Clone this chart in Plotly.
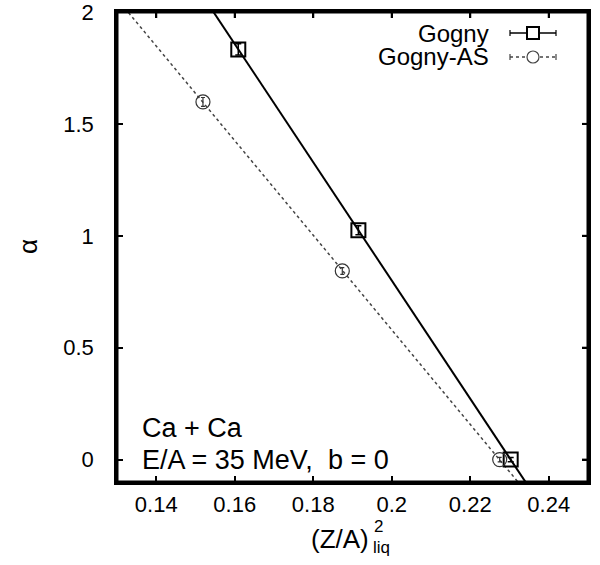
import numpy as np
import plotly.graph_objects as go

# ---- data ----
gogny_x = [0.1609, 0.1915, 0.2303]
gogny_y = [1.833, 1.025, 0.0]
gogny_err = [0.025, 0.02, 0.01]

gas_x = [0.1519, 0.1874, 0.2275]
gas_y = [1.598, 0.843, 0.0]
gas_err = [0.02, 0.015, 0.01]

x_ticks = [0.14, 0.16, 0.18, 0.20, 0.22, 0.24]
x_ticklabels = ["0.14", "0.16", "0.18", "0.2", "0.22", "0.24"]
y_ticks = [0, 0.5, 1, 1.5, 2]
y_ticklabels = ["0", "0.5", "1", "1.5", "2"]

x_range = [0.13, 0.25]
y_range = [-0.1, 2.0]

# linear fits drawn through the points
fx = np.array(x_range)
p1 = np.polyfit(gogny_x, gogny_y, 1)
p2 = np.polyfit(gas_x, gas_y, 1)

FONT = "Liberation Sans, Arial, Helvetica, sans-serif"

fig = go.Figure()
fig.add_trace(go.Scatter(x=fx, y=np.polyval(p1, fx), mode="lines",
                         line=dict(color="black", width=2), showlegend=False))
fig.add_trace(go.Scatter(x=fx, y=np.polyval(p2, fx), mode="lines",
                         line=dict(color="#444444", width=1.5, dash="dot"), showlegend=False))
fig.add_trace(go.Scatter(x=gogny_x, y=gogny_y, mode="markers",
                         marker=dict(symbol="square-open", size=14, color="black",
                                     line=dict(width=2, color="black")),
                         error_y=dict(type="data", array=gogny_err, color="black",
                                      thickness=1.5, width=3),
                         showlegend=False))
fig.add_trace(go.Scatter(x=gas_x, y=gas_y, mode="markers",
                         marker=dict(symbol="circle-open", size=14, color="#333333",
                                     line=dict(width=1.2, color="#333333")),
                         error_y=dict(type="data", array=gas_err, color="#333333",
                                      thickness=1.2, width=2),
                         showlegend=False))

# plot-area geometry in pixels
L, R, T, B = 117, 588, 12, 482
W, H = 600, 565
def px(x):
    return (x - L) / (R - L)
def py(y):
    return (B - y) / (B - T)

shapes = [
    # plot frame
    dict(type="rect", xref="paper", yref="paper", x0=0, x1=1, y0=0, y1=1,
         line=dict(color="black", width=3), layer="above"),
]
# mirrored ticks on top and right edges
for t in x_ticks:
    shapes.append(dict(type="line", xref="x", yref="paper", x0=t, x1=t,
                       ysizemode="pixel", yanchor=1, y0=0, y1=-6,
                       line=dict(color="black", width=2), layer="above"))
for t in y_ticks:
    shapes.append(dict(type="line", yref="y", xref="paper", y0=t, y1=t,
                       xsizemode="pixel", xanchor=1, x0=0, x1=-6,
                       line=dict(color="black", width=2), layer="above"))
# legend samples
for yy, col, dash, sym, lw in [(33, "black", "solid", "rect", 2), (57, "#444444", "dot", "circle", 1.2)]:
    shapes.append(dict(type="line", xref="paper", yref="paper",
                       x0=px(510), x1=px(556), y0=py(yy), y1=py(yy),
                       line=dict(color=col, width=1.5 if dash == "solid" else 1.3, dash=dash)))
    for ex in (510, 556):
        shapes.append(dict(type="line", xref="paper", yref="paper",
                           x0=px(ex), x1=px(ex), y0=py(yy - 3), y1=py(yy + 3),
                           line=dict(color=col, width=1.2)))
    shapes.append(dict(type=sym, xref="paper", yref="paper",
                       x0=px(527), x1=px(539), y0=py(yy + 6), y1=py(yy - 6),
                       fillcolor="white", line=dict(color=col, width=lw)))

annotations = [
    dict(text="Gogny", x=px(491), y=py(33), xref="paper", yref="paper",
         xanchor="right", yanchor="middle", showarrow=False,
         font=dict(family=FONT, size=24, color="black")),
    dict(text="Gogny-AS", x=px(491), y=py(57), xref="paper", yref="paper",
         xanchor="right", yanchor="middle", showarrow=False,
         font=dict(family=FONT, size=24, color="black")),
    dict(text="Ca + Ca", x=px(140), y=py(428), xref="paper", yref="paper",
         xanchor="left", yanchor="middle", showarrow=False,
         font=dict(family=FONT, size=27, color="black")),
    dict(text="E/A = 35 MeV,\u00a0 b = 0", x=px(140), y=py(460), xref="paper", yref="paper",
         xanchor="left", yanchor="middle", showarrow=False,
         font=dict(family=FONT, size=27, color="black")),
    dict(text="(Z/A)", x=px(371), y=py(539), xref="paper", yref="paper",
         xanchor="right", yanchor="middle", showarrow=False,
         font=dict(family=FONT, size=26, color="black")),
    dict(text="2", x=px(372), y=py(526), xref="paper", yref="paper",
         xanchor="left", yanchor="middle", showarrow=False,
         font=dict(family=FONT, size=17, color="black")),
    dict(text="liq", x=px(371), y=py(547), xref="paper", yref="paper",
         xanchor="left", yanchor="middle", showarrow=False,
         font=dict(family=FONT, size=17, color="black")),
    dict(text="α", x=px(28), y=0.5, xref="paper", yref="paper",
         xanchor="center", yanchor="middle", showarrow=False, textangle=-90,
         font=dict(family=FONT, size=26, color="black")),
]

axis_common = dict(showgrid=False, zeroline=False, showline=True, linecolor="black",
                   linewidth=2.5, mirror="ticks", ticks="inside", ticklen=6,
                   tickwidth=2, tickcolor="black",
                   ticklabeloverflow="allow",
                   tickfont=dict(family=FONT, size=22, color="black"))

fig.update_layout(
    width=W, height=H,
    margin=dict(l=L, r=W - R, t=T, b=H - B, autoexpand=False),
    paper_bgcolor="white", plot_bgcolor="white",
    showlegend=False,
    xaxis=dict(range=x_range, tickvals=x_ticks, ticktext=x_ticklabels,
               ticklabelstandoff=1, **axis_common),
    yaxis=dict(range=y_range, tickvals=y_ticks, ticktext=y_ticklabels,
               ticklabelstandoff=16, **axis_common),
    shapes=shapes,
    annotations=annotations,
)

fig.write_html("out.html", config={"displayModeBar": False},
               post_script="document.body.style.margin='0';document.body.style.overflow='hidden';")
